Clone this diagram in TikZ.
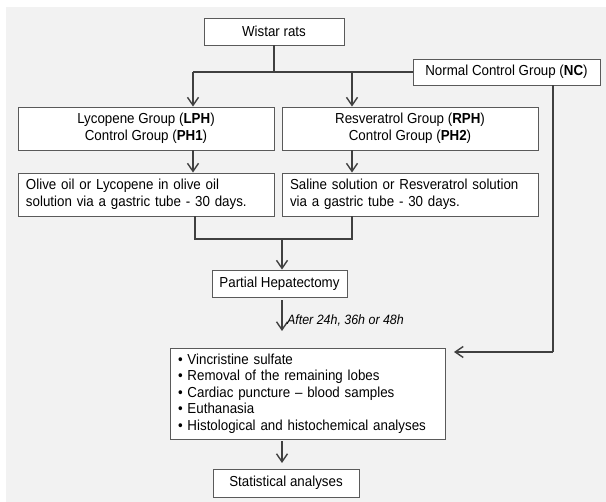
\documentclass[tikz,border=0pt]{standalone}
\usepackage{fontspec}
\setmainfont{Liberation Sans}[FakeStretch=0.92]
\usetikzlibrary{arrows.meta,calc}
\definecolor{bgc}{HTML}{F2F2F2}
\definecolor{linec}{HTML}{404040}
\definecolor{boxc}{HTML}{5A5A5A}
\begin{document}
\begin{tikzpicture}[x=1pt,y=-1pt,
  box/.style={draw=boxc,line width=0.9pt,fill=white,inner sep=0pt,
    font=\fontsize{14.5}{16.5}\selectfont,align=center},
  lbox/.style={box,align=left,inner xsep=8pt},
  conn/.style={draw=linec,line width=1.6pt},
  arr/.style={conn,-{Straight Barb[length=8pt,width=11pt,line width=1.4pt]}}]
\useasboundingbox (0,0) rectangle (606,502);
\fill[white] (0,0) rectangle (606,502);
\fill[bgc] (6,7) rectangle (606,502);
% nodes
\node[box,minimum width=140pt,minimum height=27pt] (wistar) at (274,31.5) {Wistar rats};
\node[box,minimum width=187pt,minimum height=26pt] (nc) at (506.5,72) {Normal Control Group (\textbf{NC})};
\node[box,minimum width=256pt,minimum height=43pt] (lph) at (146,128.5) {Lycopene Group (\textbf{LPH})\\Control Group (\textbf{PH1})};
\node[box,minimum width=256pt,minimum height=43pt] (rph) at (410,128.5) {Resveratrol Group (\textbf{RPH})\\Control Group (\textbf{PH2})};
\node[lbox,text width=240pt,minimum height=43pt] (olive) at (146,194.5) {Olive oil or Lycopene in olive oil\\solution via a gastric tube - 30 days.};
\node[lbox,text width=240pt,minimum height=43pt] (saline) at (410,194.5) {Saline solution or Resveratrol solution\\via a gastric tube - 30 days.};
\node[box,minimum width=135pt,minimum height=27pt] (ph) at (279.5,283.5) {Partial Hepatectomy};
\node[lbox,text width=259pt,minimum height=91pt] (proc) at (307.5,393.5) {• Vincristine sulfate\\• Removal of the remaining lobes\\• Cardiac puncture – blood samples\\• Euthanasia\\• Histological and histochemical analyses};
\node[box,minimum width=146pt,minimum height=28pt] (stats) at (286,483) {Statistical analyses};
% coordinates
\coordinate (jt) at (274,72);
\coordinate (jl) at (193,72);
\coordinate (jr) at (352,72);
\coordinate (ml) at (195,239);
\coordinate (mr) at (352,239);
\coordinate (mc) at (282,239);
\coordinate (phend) at (282,331);
\coordinate (ncc) at (553,352);
\coordinate (nctip) at (454,352);
\coordinate (stend) at (282,463);
% connectors
\draw[conn] (wistar.south) -- (jt);
\draw[conn] (jl) -- (nc.west);
\draw[arr] (jl) -- (jl |- lph.north);
\draw[arr] (jr) -- (jr |- rph.north);
\draw[arr] (jl |- lph.south) -- (jl |- olive.north);
\draw[arr] (jr |- rph.south) -- (jr |- saline.north);
\draw[conn] (ml |- olive.south) -- (ml) -- (mr) -- (mr |- saline.south);
\draw[arr] (mc) -- (mc |- ph.north);
\draw[arr] ($(mc |- ph.south)+(0,3)$) -- (phend)
  node[pos=0.66,right=1pt,font=\itshape\fontsize{13.5}{15}\selectfont,text=black] {After 24h, 36h or 48h};
\draw[conn] (ncc |- nc.south) -- (ncc);
\draw[arr] (ncc) -- (nctip);
\draw[arr] ($(stend |- proc.south)+(0,2)$) -- (stend);
\end{tikzpicture}
\end{document}
